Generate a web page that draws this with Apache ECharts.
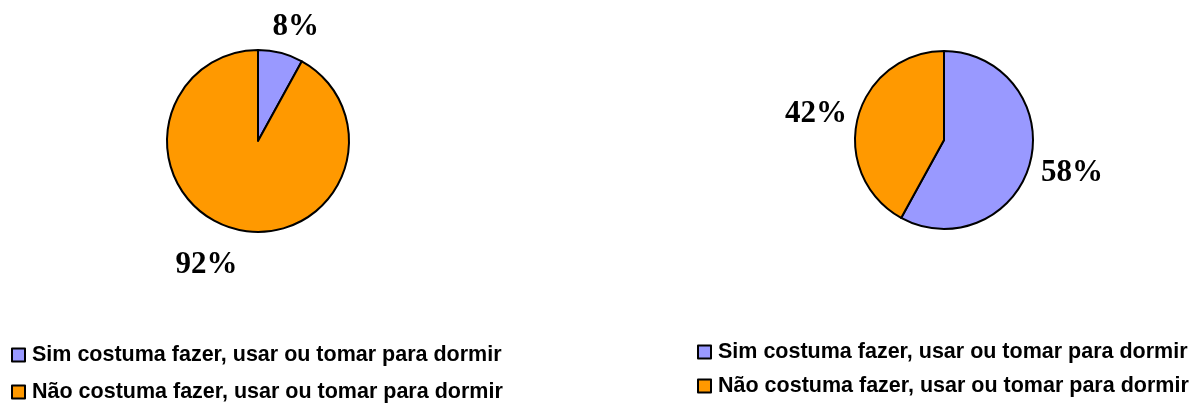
<!DOCTYPE html>
<html>
<head>
<meta charset="utf-8">
<script src="https://cdn.jsdelivr.net/npm/echarts@6/dist/echarts.min.js"></script>
<style>html,body{margin:0;padding:0;background:#fff;}#c{width:1199px;height:403px;}</style>
</head>
<body>
<div id="c"></div>
<script>
const categories = ['Sim costuma fazer, usar ou tomar para dormir', 'Não costuma fazer, usar ou tomar para dormir'];
const leftValues = [8, 92];
const rightValues = [58, 42];
const colors = ['#9999FF', '#FF9900'];
// label nudges [seriesIndex][dataIndex] = [dx, dy]
const labelNudges = [[[-20, 1], [14, 9]], [[0, 9], [0, -2]]];

const chart = echarts.init(document.getElementById('c'));
function mk(vals) { return categories.map((n, i) => ({ name: n, value: vals[i], itemStyle: { color: colors[i] } })); }
const labelStyle = { show: true, position: 'outside', formatter: '{c}%', fontFamily: 'Liberation Serif', fontWeight: 'bold', fontSize: 31, color: '#000' };
const legendBase = {
  orient: 'vertical', icon: 'rect', itemWidth: 13, itemHeight: 13, padding: 0, height: 120,
  itemStyle: { borderColor: '#000', borderWidth: 2 },
  textStyle: { fontFamily: 'Liberation Sans', fontWeight: 'bold', fontSize: 21.5, lineHeight: 20, color: '#000', padding: [0, 0, 0, 2] },
  selectedMode: false, data: categories
};
function layout(p) { const n = labelNudges[p.seriesIndex][p.dataIndex]; return { dx: n[0], dy: n[1] }; }
chart.setOption({
  animation: false,
  legend: [
    Object.assign({}, legendBase, { left: 11, top: 344, itemGap: 15 }),
    Object.assign({}, legendBase, { left: 697, top: 341, itemGap: 12 })
  ],
  series: [
    { type: 'pie', center: [258, 141], radius: 91, startAngle: 90, clockwise: true,
      itemStyle: { borderColor: '#000', borderWidth: 2 },
      label: labelStyle, labelLine: { show: false, length: 28, length2: 0 }, labelLayout: layout,
      emphasis: { disabled: true }, data: mk(leftValues) },
    { type: 'pie', center: [944, 140], radius: 89, startAngle: 90, clockwise: true,
      itemStyle: { borderColor: '#000', borderWidth: 2 },
      label: labelStyle, labelLine: { show: false, length: 6, length2: 0 }, labelLayout: layout,
      emphasis: { disabled: true }, data: mk(rightValues) }
  ]
});
</script>
</body>
</html>
